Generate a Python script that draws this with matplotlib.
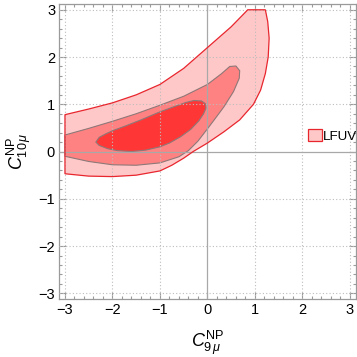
import matplotlib
matplotlib.use("Agg")
import matplotlib.pyplot as plt
from matplotlib.patches import Polygon, Patch
from matplotlib.ticker import MultipleLocator

plt.rcParams['font.family'] = ['Liberation Sans', 'DejaVu Sans']
plt.rcParams['mathtext.fontset'] = 'custom'
plt.rcParams['mathtext.rm'] = 'Liberation Sans'
plt.rcParams['mathtext.it'] = 'Liberation Sans:italic'
plt.rcParams['mathtext.bf'] = 'Liberation Sans:bold'

# ---- data: traced boundaries of the confidence regions ----
outer_x = [-3.0, -2.5, -2.0, -1.5, -1.0, -0.5, 0.0, 0.5, 0.85,
           1.22, 1.27, 1.30, 1.28, 1.22, 1.12, 0.97, 0.68, 0.35, 0.0,
           -0.3, -0.5, -0.75, -1.0, -1.5, -2.0, -2.5, -3.0]
outer_y = [0.78, 0.90, 1.03, 1.20, 1.42, 1.76, 2.20, 2.64, 3.0,
           3.0, 2.75, 2.40, 2.0, 1.65, 1.30, 1.0, 0.67, 0.42, 0.18,
           0.0, -0.14, -0.29, -0.41, -0.50, -0.53, -0.52, -0.47]

mid_x = [-3.0, -2.5, -2.0, -1.5, -1.0, -0.5, 0.0, 0.3, 0.47, 0.6, 0.68,
         0.67, 0.55, 0.35, 0.15, 0.0, -0.2, -0.4, -0.6, -1.0, -1.5, -2.0,
         -2.5, -3.0]
mid_y = [0.35, 0.49, 0.64, 0.80, 0.98, 1.17, 1.42, 1.65, 1.80, 1.81, 1.71,
         1.55, 1.27, 0.95, 0.68, 0.48, 0.22, 0.02, -0.11, -0.24, -0.29, -0.28,
         -0.21, -0.10]

inner_x = [-2.35, -2.28, -2.15, -2.0, -1.73, -1.4, -1.0, -0.7, -0.45, -0.28,
           -0.12, -0.04, -0.03, -0.08, -0.18, -0.35, -0.57, -0.8, -1.0, -1.3,
           -1.6, -1.9, -2.1, -2.28]
inner_y = [0.20, 0.30, 0.37, 0.44, 0.54, 0.67, 0.84, 0.95, 1.04, 1.08,
           1.07, 1.01, 0.92, 0.80, 0.65, 0.47, 0.31, 0.18, 0.10, 0.03,
           0.0, 0.02, 0.06, 0.13]

legend_label = "LFUV"
x_ticks = [-3, -2, -1, 0, 1, 2, 3]
y_ticks = [-3, -2, -1, 0, 1, 2, 3]

# ---- styles ----
c_outer = '#FFC8C8'
c_mid = '#FF8282'
c_inner = '#FF3636'
c_red_edge = '#E8262E'
c_gray_edge = '#8E7878'
frame_col = '#9A9A9A'

fig = plt.figure(figsize=(3.57, 3.57), dpi=100)
ax = fig.add_axes([0.166, 0.1625, 0.830, 0.826])

ax.add_patch(Polygon(list(zip(outer_x, outer_y)), closed=True,
                     facecolor=c_outer, edgecolor='none', zorder=1))
ax.add_patch(Polygon(list(zip(mid_x, mid_y)), closed=True,
                     facecolor=c_mid, edgecolor=c_gray_edge, lw=0.8, zorder=2))
ax.add_patch(Polygon(list(zip(inner_x, inner_y)), closed=True,
                     facecolor=c_inner, edgecolor=c_gray_edge, lw=0.8, zorder=3))
ax.add_patch(Polygon(list(zip(outer_x, outer_y)), closed=True,
                     facecolor='none', edgecolor=c_red_edge, lw=0.9, zorder=5))

ax.set_xlim(-3.12, 3.12)
ax.set_ylim(-3.12, 3.12)
ax.set_xticks(x_ticks)
ax.set_yticks(y_ticks)
ax.set_xticklabels([str(t).replace('-', '\u2212') for t in x_ticks])
ax.set_yticklabels([str(t).replace('-', '\u2212') for t in y_ticks])
ax.xaxis.set_minor_locator(MultipleLocator(0.2))
ax.yaxis.set_minor_locator(MultipleLocator(0.2))

for t in x_ticks:
    if t != 0:
        ax.axvline(t, color='#BDBDBD', lw=0.8, ls=(0, (1, 2)), zorder=4)
for t in y_ticks:
    if t != 0:
        ax.axhline(t, color='#BDBDBD', lw=0.8, ls=(0, (1, 2)), zorder=4)
ax.axvline(0, color='#A8A8A8', lw=0.9, zorder=4)
ax.axhline(0, color='#A8A8A8', lw=0.9, zorder=4)

for s in ax.spines.values():
    s.set_color(frame_col)
    s.set_linewidth(0.9)
ax.tick_params(which='both', direction='in', top=True, right=True,
               color=frame_col, width=0.8, labelsize=10.5, labelcolor='black')
ax.tick_params(which='major', length=5, pad=3)
ax.tick_params(which='minor', length=2.5)

ax.set_xlabel(r'$C^{\mathrm{NP}}_{9\,\mu}$', fontsize=13)
ax.set_ylabel(r'$C^{\mathrm{NP}}_{10\,\mu}$', fontsize=13)
ax.xaxis.set_label_coords(0.5, -0.10)
ax.yaxis.set_label_coords(-0.09, 0.5)

handle = Patch(facecolor=c_outer, edgecolor=c_red_edge, lw=0.9)
ax.legend(handles=[handle], labels=[legend_label], frameon=False,
          loc='center left', bbox_to_anchor=(0.838, 0.553),
          handlelength=1.05, handleheight=1.05, handletextpad=0.08,
          borderpad=0, borderaxespad=0, fontsize=9.6)

fig.savefig('out.png', dpi=100)
